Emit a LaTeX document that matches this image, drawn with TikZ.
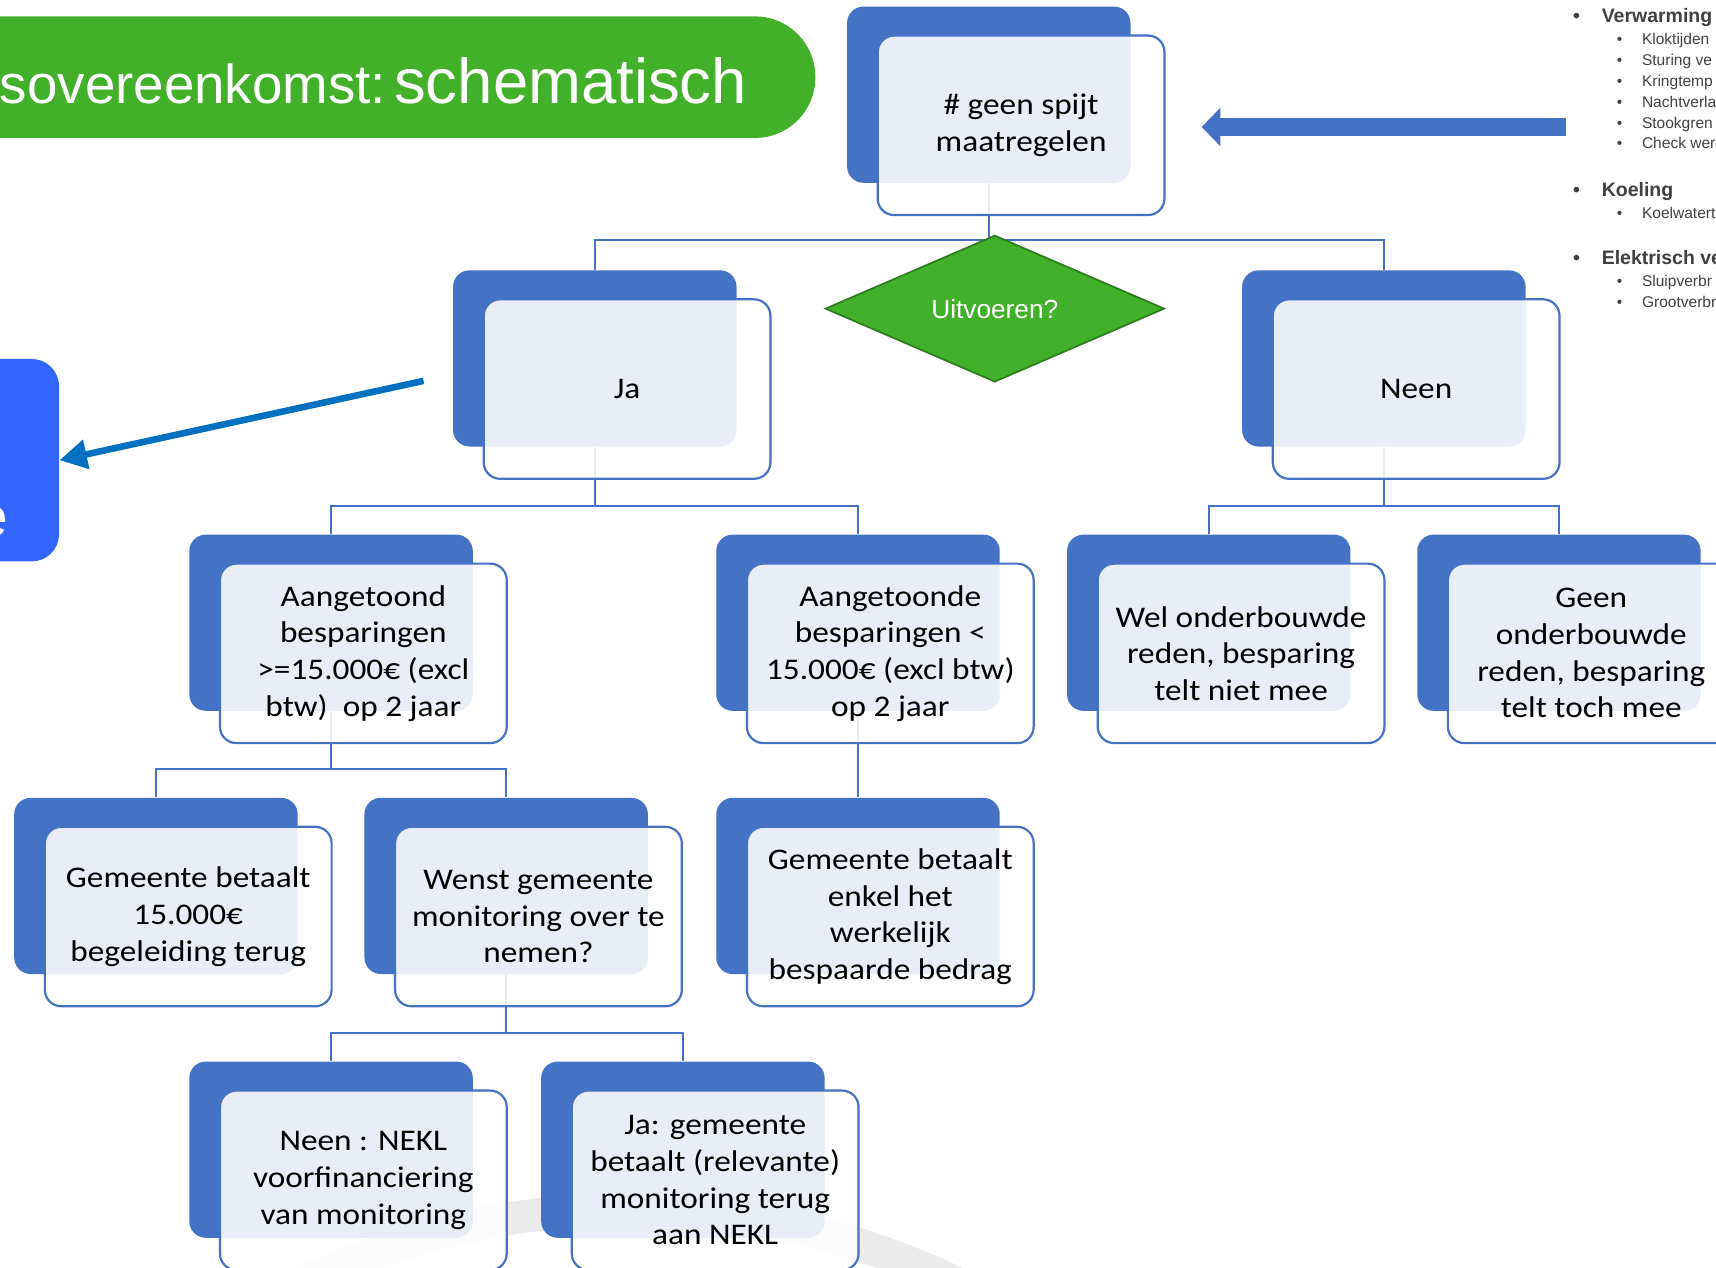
\documentclass[tikz,border=0pt]{standalone}
\usepackage{fontspec}
\setmainfont{Carlito}[FakeStretch=1.11]
\newfontfamily\arialfont{Liberation Sans}
\usepackage{xcolor}
\usepackage{tikz}
\usetikzlibrary{positioning,arrows.meta,shapes.geometric,backgrounds}

\definecolor{boxblue}{HTML}{4472C4}
\definecolor{titlegreen}{HTML}{43B02A}
\definecolor{diagreen}{HTML}{42B02A}
\definecolor{diaedge}{HTML}{2F7D20}
\definecolor{sideblue}{HTML}{3366FF}
\definecolor{arrowblue}{HTML}{0070C0}
\definecolor{listgray}{HTML}{404040}
\definecolor{ringgray}{HTML}{EBEBEB}

\begin{document}
\begin{tikzpicture}[x=0.5pt, y=-0.5pt,
        back/.style={fill=boxblue, rounded corners=7.5pt, minimum width=129.5pt, minimum height=80.5pt, inner sep=0pt},
        front/.style={draw=boxblue, line width=1pt, fill=white, fill opacity=0.88, text opacity=1, rounded corners=7.5pt, minimum width=131pt, minimum height=82pt, inner sep=0pt, align=center, font=\fontsize{13.7}{16.75}\selectfont, xshift=14.75pt, yshift=-14pt},
        conn/.style={draw=boxblue, line width=1pt},
        decision/.style={diamond, fill=diagreen, draw=diaedge, line width=0.8pt, minimum width=155pt, minimum height=67pt, inner sep=0pt, text=white, font=\arialfont\fontsize{12}{14}\selectfont},
        pointer/.style={draw=arrowblue, line width=3pt, -{Triangle[length=12.5pt, width=13pt]}},
        bigarrow/.style={draw=boxblue, line width=8.5pt, -{Triangle[length=8.5pt, width=17pt]}},
        listhead/.style={anchor=base west, inner sep=0pt, text=listgray, font=\arialfont\bfseries\fontsize{8.9}{10}\selectfont},
        listsub/.style={anchor=base west, inner sep=0pt, text=listgray, font=\arialfont\fontsize{7.1}{8}\selectfont}
    ]
    \useasboundingbox (0,0) rectangle (1568,1158);
    \clip (0,0) rectangle (1568,1158);

    % titelbalk
    \fill[titlegreen, rounded corners=27.5pt] (-80,15) rectangle (745,126);
    \node[anchor=base east, inner sep=0pt, text=white, font=\arialfont] (title) at (683,95)
        {{\fontsize{25}{30}\selectfont sovereenkomst:} {\fontsize{29}{34}\selectfont schematisch}};

    % blauw kader links
    \node[fill=sideblue, rounded corners=12.5pt, minimum width=57pt, minimum height=92.5pt, inner sep=0pt] (side) at (-3,420.5) {};
    \node[anchor=base east, inner sep=0pt, text=white, font=\arialfont\fontsize{26}{30}\selectfont] (sidetext) at (8,490) {e};

    % lijst rechts
    \node[listhead] (verw) at (1437,21) {•\hspace{10pt}Verwarming};
    \node[listsub] (klok) at (1477,41) {•\hspace{9pt}Kloktijden};
    \node[listsub] (stur) at (1477,60) {•\hspace{9pt}Sturing ve};
    \node[listsub] (kring) at (1477,79) {•\hspace{9pt}Kringtemp};
    \node[listsub] (nacht) at (1477,98) {•\hspace{9pt}Nachtverla};
    \node[listsub] (stook) at (1477,117) {•\hspace{9pt}Stookgren};
    \node[listsub] (check) at (1477,136) {•\hspace{9pt}Check wer};
    \node[listhead] (koel) at (1437,180) {•\hspace{10pt}Koeling};
    \node[listsub] (koelw) at (1477,200) {•\hspace{9pt}Koelwatert};
    \node[listhead] (elek) at (1437,242) {•\hspace{10pt}Elektrisch ve};
    \node[listsub] (sluip) at (1477,262) {•\hspace{9pt}Sluipverbr};
    \node[listsub] (groot) at (1477,281) {•\hspace{9pt}Grootverbr};

    % pijlen
    \coordinate (listarrow) at (1431,116);
    \coordinate (toparrow) at (1098,116);
    \draw[bigarrow] (listarrow) -- (toparrow);
    \coordinate (jaarrow) at (387,348);
    \draw[pointer] (jaarrow) -- (side.east);

    % achterste blokken
    \node[back] (topB) at (903.5,86.5) {};
    \node[back] (jaB) at (543.5,327.5) {};
    \node[back] (neenB) at (1264.5,327.5) {};
    \node[back] (aangB) at (302.5,569) {};
    \node[back] (aanglB) at (784,569) {};
    \node[back] (welB) at (1104.5,569) {};
    \node[back] (geenB) at (1424.5,569) {};
    \node[back] (bet15B) at (142.5,809.5) {};
    \node[back] (wenstB) at (462.5,809.5) {};
    \node[back] (enkelB) at (784,809.5) {};
    \node[back] (neklB) at (302.5,1050.5) {};
    \node[back] (jagemB) at (624,1050.5) {};

    % voorste blokken met tekst
    \node[front] (top) at (topB) {\# geen spijt\\maatregelen};
    \node[front] (ja) at (jaB) {Ja};
    \node[front] (neen) at (neenB) {Neen};
    \node[front] (aang) at (aangB) {Aangetoond\\besparingen\\>=15.000€ (excl\\btw)~ op 2 jaar};
    \node[front] (aangl) at (aanglB) {Aangetoonde\\besparingen <\\15.000€ (excl btw)\\op 2 jaar};
    \node[front] (wel) at (welB) {Wel onderbouwde\\reden, besparing\\telt niet mee};
    \node[front] (geen) at (geenB) {Geen\\onderbouwde\\reden, besparing\\telt toch mee};
    \node[front] (bet15) at (bet15B) {Gemeente betaalt\\15.000€\\begeleiding terug};
    \node[front] (wenst) at (wenstB) {Wenst gemeente\\monitoring over te\\nemen?};
    \node[front] (enkel) at (enkelB) {Gemeente betaalt\\enkel het\\werkelijk\\bespaarde bedrag};
    \node[front] (nekl) at (neklB) {Neen : NEKL\\voorfinanciering\\van monitoring};
    \node[front] (jagem) at (jagemB) {Ja: gemeente\\betaalt (relevante)\\monitoring terug\\aan NEKL};

    % beslissing
    \node[decision] (ask) at (909,282) {Uitvoeren?};

    % verbindingen
    \begin{pgfonlayer}{background}
    \begin{scope}
        \clip (0,0) rectangle (1568,1158);
        \draw[ringgray, line width=15pt] (575,1800) circle[radius=347.5pt];
        \draw[conn] (jaB.north) -- ++(0,-27) coordinate (bar1) -| (neenB.north);
        \draw[conn] (topB) -- (topB |- bar1);
        \draw[conn] (aangB.north) -- ++(0,-26) coordinate (bar2) -| (aanglB.north);
        \draw[conn] (jaB) -- (jaB |- bar2);
        \draw[conn] (welB.north) -- ++(0,-26) coordinate (bar3) -| (geenB.north);
        \draw[conn] (neenB) -- (neenB |- bar3);
        \draw[conn] (bet15B.north) -- ++(0,-26) coordinate (bar4) -| (wenstB.north);
        \draw[conn] (aangB) -- (aangB |- bar4);
        \draw[conn] (aanglB) -- (enkelB.north);
        \draw[conn] (neklB.north) -- ++(0,-26) coordinate (bar5) -| (jagemB.north);
        \draw[conn] (wenstB) -- (wenstB |- bar5);
    \end{scope}
    \end{pgfonlayer}

\end{tikzpicture}
\end{document}
